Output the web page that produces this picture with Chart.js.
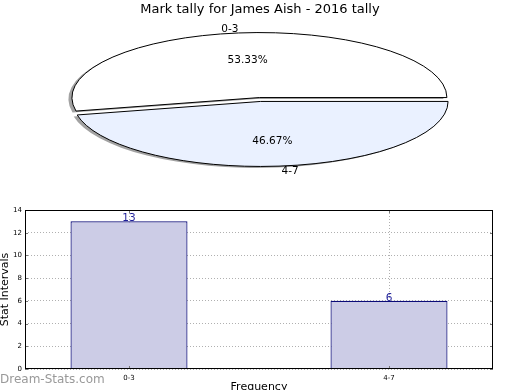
<!DOCTYPE html>
<html>
<head>
<meta charset="utf-8">
<script src="https://cdn.jsdelivr.net/npm/chart.js@4.4.1/dist/chart.umd.min.js"></script>
<style>
  html, body { margin:0; padding:0; background:#fff; width:520px; height:390px; overflow:hidden; }
  canvas { position:absolute; left:0; top:0; }
  #wm { position:absolute; left:0; top:372px; font:12px "DejaVu Sans", sans-serif; color:#999; white-space:nowrap; }
</style>
</head>
<body>
<canvas id="bar" width="520" height="390"></canvas>
<canvas id="pie" width="520" height="390"></canvas>
<div id="wm">Dream-Stats.com</div>
<script>
// ---- data ----
const chartTitle = 'Mark tally for James Aish - 2016 tally';
const pieLabels = ['0-3', '4-7'];
const piePercents = [53.33, 46.67];
const barCategories = ['0-3', '4-7'];
const barValues = [13, 6];
const yTickMin = 0, yTickMax = 14, yTickStep = 2;

const FONT = '"DejaVu Sans", sans-serif';

// ---- ellipse pie geometry ----
const CX = 260, CY = 99.5, RX = 187.5, RY = 65, EXPLODE = 0.03;

const ellipsePie = {
  id: 'ellipsePie',
  beforeDatasetsDraw(chart) {
    const ctx = chart.ctx;
    const meta = chart.getDatasetMeta(0);
    const labelPos = [];
    meta.data.forEach((el, i) => {
      const p = el.getProps(['x', 'y', 'startAngle', 'endAngle', 'outerRadius'], true);
      const R = p.outerRadius;
      const mid = (p.startAngle + p.endAngle) / 2;
      ctx.save();
      ctx.translate(CX, CY);
      ctx.scale(RX / R, RY / R);
      ctx.translate(EXPLODE * R * Math.cos(mid), EXPLODE * R * Math.sin(mid));
      ctx.translate(-p.x, -p.y);
      ctx.shadowColor = 'rgba(70,70,70,0.5)';
      ctx.shadowOffsetX = -3.5;
      ctx.shadowOffsetY = 1.5;
      ctx.shadowBlur = 0;
      el.draw(ctx);
      ctx.shadowColor = 'rgba(0,0,0,0)';
      ctx.beginPath();
      ctx.moveTo(p.x, p.y);
      ctx.arc(p.x, p.y, R, p.startAngle, p.endAngle);
      ctx.closePath();
      ctx.restore();
      ctx.save();
      ctx.lineWidth = 1;
      ctx.strokeStyle = '#000';
      ctx.stroke();
      ctx.restore();
      const ex = CX + EXPLODE * RX * Math.cos(mid);
      const ey = CY + EXPLODE * RY * Math.sin(mid);
      labelPos.push({ mid, ex, ey, i });
    });
    ctx.save();
    ctx.fillStyle = '#000';
    ctx.textBaseline = 'middle';
    labelPos.forEach(({ mid, ex, ey, i }) => {
      const c = Math.cos(mid), s = Math.sin(mid);
      ctx.font = '10.5px ' + FONT;
      ctx.textAlign = 'center';
      ctx.fillText(chart.data.datasets[0].data[i].toFixed(2) + '%', ex + 0.6 * RX * c, ey + 0.6 * RY * s + 1);
      ctx.textAlign = c < 0 ? 'right' : 'left';
      ctx.fillText(chart.data.labels[i], CX + 1.1 * RX * c, CY + 1.1 * RY * s + 0.5);
    });
    ctx.restore();
    return false;
  }
};

new Chart(document.getElementById('pie'), {
  type: 'pie',
  data: {
    labels: pieLabels,
    datasets: [{
      data: piePercents,
      backgroundColor: ['#ffffff', '#eaf1ff'],
      borderWidth: 0
    }]
  },
  options: {
    responsive: false,
    animation: false,
    rotation: 258,
    events: [],
    layout: { padding: 0 },
    plugins: {
      legend: { display: false },
      tooltip: { enabled: false },
      title: {
        display: true,
        text: chartTitle,
        color: '#000',
        font: { family: FONT, size: 13, weight: 'normal' },
        padding: { top: 2, bottom: 2 }
      }
    }
  },
  plugins: [ellipsePie]
});

// ---- bar chart ----
const boxPlugin = {
  id: 'box',
  afterDraw(chart) {
    const { ctx, chartArea: a, scales } = chart;
    ctx.save();
    ctx.strokeStyle = '#777';
    ctx.lineWidth = 1;
    scales.y.ticks.forEach(t => {
      const py = Math.round(scales.y.getPixelForValue(t.value)) + 0.5;
      ctx.beginPath();
      ctx.moveTo(a.left, py); ctx.lineTo(a.left + 3, py);
      ctx.moveTo(a.right, py); ctx.lineTo(a.right - 3, py);
      ctx.stroke();
    });
    scales.x.ticks.forEach(t => {
      const px = Math.round(scales.x.getPixelForValue(t.value)) + 0.5;
      ctx.beginPath();
      ctx.moveTo(px, a.bottom); ctx.lineTo(px, a.bottom - 3);
      ctx.moveTo(px, a.top); ctx.lineTo(px, a.top + 3);
      ctx.stroke();
    });
    ctx.strokeStyle = '#000';
    ctx.strokeRect(Math.round(a.left) + 0.5, Math.round(a.top) + 0.5,
                   Math.round(a.right - a.left) - 1, Math.round(a.bottom - a.top) - 1);
    ctx.restore();
  },
  afterDatasetsDraw(chart) {
    const { ctx } = chart;
    const meta = chart.getDatasetMeta(0);
    ctx.save();
    ctx.fillStyle = '#1f1f9a';
    ctx.font = '10.5px ' + FONT;
    ctx.textAlign = 'center';
    ctx.textBaseline = 'alphabetic';
    meta.data.forEach((el, i) => {
      ctx.fillText(String(barValues[i]), el.x, el.y);
    });
    ctx.restore();
  }
};

new Chart(document.getElementById('bar'), {
  type: 'bar',
  data: {
    datasets: [{
      data: barCategories.map((c, i) => ({ x: i, y: barValues[i] })),
      backgroundColor: '#ccccE6',
      borderColor: '#0a0a78',
      borderWidth: 1.2,
      barPercentage: 0.45,
      categoryPercentage: 1
    }]
  },
  options: {
    responsive: false,
    animation: false,
    events: [],
    layout: { padding: { left: 0, top: 210, right: 27, bottom: 0 } },
    plugins: { legend: { display: false }, tooltip: { enabled: false } },
    scales: {
      x: {
        type: 'linear',
        min: -0.4, max: 1.4,
        offset: false,
        z: 1,
        afterBuildTicks: s => { s.ticks = barCategories.map((c, i) => ({ value: i })); },
        afterFit: s => { s.height = 21; },
        ticks: {
          callback: v => barCategories[v],
          font: { family: FONT, size: 7 },
          color: '#000',
          padding: 5,
          autoSkip: false,
          maxRotation: 0
        },
        grid: { color: '#b0b0b0', lineWidth: 1, drawTicks: false, offset: false },
        border: { display: false, dash: [1, 2] },
        title: {
          display: true, text: 'Frequency', color: '#000',
          font: { family: FONT, size: 11 },
          padding: { top: 0, bottom: -3.5 }
        }
      },
      y: {
        min: yTickMin, max: yTickMax,
        z: 1,
        afterFit: s => { s.width = 25; },
        ticks: {
          stepSize: yTickStep,
          font: { family: FONT, size: 7 },
          color: '#000',
          padding: 3
        },
        grid: { color: '#b0b0b0', lineWidth: 1, drawTicks: false },
        border: { display: false, dash: [1, 2] },
        title: {
          display: true, text: 'Stat Intervals', color: '#000',
          font: { family: FONT, size: 11 },
          padding: { top: -1, bottom: 0 }
        }
      }
    }
  },
  plugins: [boxPlugin]
});
</script>
</body>
</html>
